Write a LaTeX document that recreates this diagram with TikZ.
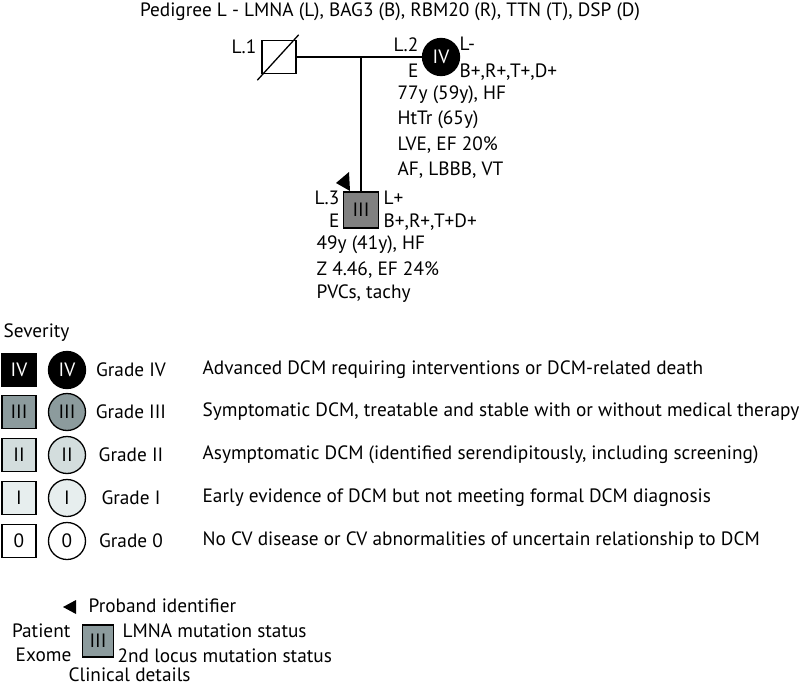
\documentclass[tikz,border=0pt]{standalone}
\usepackage{fontspec}
\setmainfont{PT Sans}
\usetikzlibrary{positioning}

\definecolor{gradeIII}{HTML}{8C9B9D}
\definecolor{gradeII}{HTML}{D3DDDD}
\definecolor{gradeI}{HTML}{E7EEEE}
\definecolor{probandgray}{HTML}{808080}

\begin{document}
\begin{tikzpicture}[
    x=1pt, y=-1pt,
    font=\fontsize{19.3}{22}\selectfont,
    every path/.style={line width=1.3pt},
    txt/.style={inner sep=0pt, anchor=west},
    rtxt/.style={inner sep=0pt, anchor=east},
    male/.style={rectangle, draw, line width=1.3pt, minimum width=34pt, minimum height=33pt, inner sep=0pt},
    female/.style={circle, draw, line width=1.3pt, minimum size=37pt, inner sep=0pt},
    gIV/.style={fill=black, text=white},
    gIII/.style={fill=gradeIII},
    gII/.style={fill=gradeII},
    gI/.style={fill=gradeI},
    g0/.style={fill=white},
]
    \useasboundingbox (0,0) rectangle (800,687);

    % pedigree
    \node[inner sep=0pt] (title) at (390,12) {Pedigree L - LMNA (L), BAG3 (B), RBM20 (R), TTN (T), DSP (D)};

    \node[male] (L1) at (279,57) {};
    \draw ([shift={(-4,6)}]L1.south west) -- ([shift={(2,-5)}]L1.north east);
    \node[rtxt] (L1lab) at (257,47) {L.1};

    \node[female, gIV] (L2) at (441,57) {IV};
    \node[rtxt] (L2lab) at (419,45) {L.2};
    \node[rtxt] (L2e) at (419,71) {E};
    \node[txt] (L2l) at (459,44) {L-};
    \node[txt] (L2x) at (459,72) {B+,R+,T+,D+};
    \node[txt] (L2a) at (397,95) {77y (59y), HF};
    \node[txt] (L2b) at (397,120) {HtTr (65y)};
    \node[txt] (L2c) at (397,145) {LVE, EF 20\%};
    \node[txt] (L2d) at (397,170) {AF, LBBB, VT};

    \draw (L1.east) -- (L2.west);
    \coordinate (mate) at (361,57);

    \node[male, fill=probandgray, minimum height=36pt, minimum width=35pt] (L3) at (361,210) {III};
    \draw (mate) -- (L3.north);
    \fill (336,183) -- (349,172) -- (350,191) -- cycle;
    \node[rtxt] (L3lab) at (340,198) {L.3};
    \node[rtxt] (L3e) at (340,221) {E};
    \node[txt] (L3l) at (383,198) {L+};
    \node[txt] (L3x) at (383,222) {B+,R+,T+D+};
    \node[txt] (L3a) at (316,245) {49y (41y), HF};
    \node[txt] (L3b) at (316,270) {Z 4.46, EF 24\%};
    \node[txt] (L3c) at (316,294) {PVCs, tachy};

    % severity legend
    \node[txt] (sev) at (3,333) {Severity};
    \foreach \g/\num/\y/\desc in {
        gIV/IV/370/Advanced DCM requiring interventions or DCM-related death,
        gIII/III/412/{Symptomatic DCM, treatable and stable with or without medical therapy},
        gII/II/455/{Asymptomatic DCM (identified serendipitously, including screening)},
        gI/I/498/Early evidence of DCM but not meeting formal DCM diagnosis,
        g0/0/541/No CV disease or CV abnormalities of uncertain relationship to DCM} {
        \node[male, \g] (sq\num) at (19,\y) {\num};
        \node[female, \g] (ci\num) at (67,\y) {\num};
        \node[inner sep=0pt] (gr\num) at (131,\y) {Grade \num};
        \node[txt] (de\num) at (202,\y) {\desc};
    }

    % key
    \fill (63,607) -- (76,600) -- (76,614) -- cycle;
    \node[txt] (prob) at (88,606) {Proband identifier};
    \node[male, gIII, minimum width=31pt, minimum height=32pt] (key) at (98,641) {III};
    \node[rtxt] (pat) at (71,631) {Patient};
    \node[rtxt] (exo) at (72,655) {Exome};
    \node[txt] (lmna) at (122,631) {LMNA mutation status};
    \node[txt] (loc) at (117,656) {2nd locus mutation status};
    \node[txt] (clin) at (68,675) {Clinical details};
\end{tikzpicture}
\end{document}
